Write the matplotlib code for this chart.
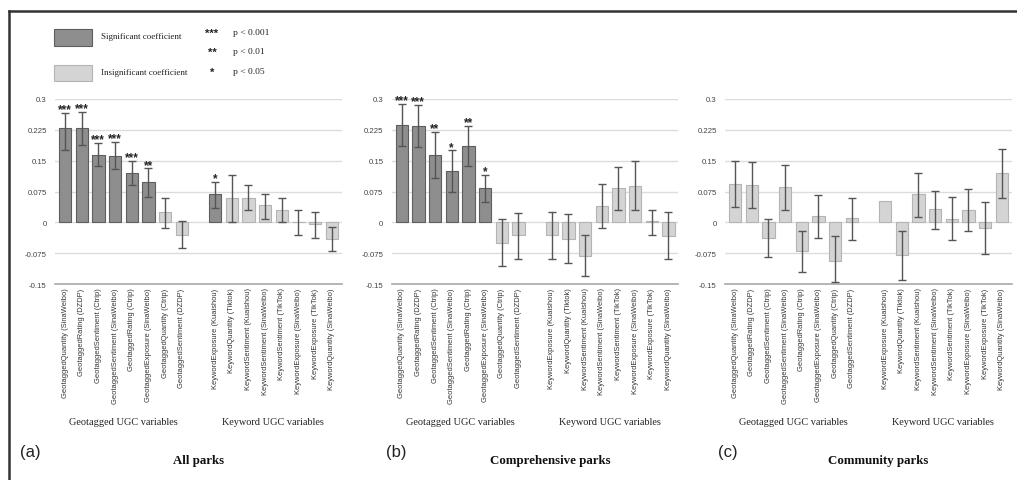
import numpy as np
import matplotlib
matplotlib.use("Agg")
import matplotlib.pyplot as plt
from matplotlib.patches import Rectangle
from matplotlib.lines import Line2D

# ---------------- data ----------------
geo_labels = ["GeotaggedQuantity (SinaWeibo)", "GeotaggedRating (DZDP)",
              "GeotaggedSentiment (Ctrip)", "GeotaggedSentiment (SinaWeibo)",
              "GeotaggedRating (Ctrip)", "GeotaggedExposure (SinaWeibo)",
              "GeotaggedQuantity (Ctrip)", "GeotaggedSentiment (DZDP)"]
kw_labels = ["KeywordExposure (Kuaishou)", "KeywordQuantity (Tiktok)",
             "KeywordSentiment (Kuaishou)", "KeywordSentiment (SinaWeibo)",
             "KeywordSentiment (TikTok)", "KeywordExposure (SinaWeibo)",
             "KeywordExposure (TikTok)", "KeywordQuantity (SinaWeibo)"]
labels = geo_labels + kw_labels
group_names = ["Geotagged UGC variables", "Keyword UGC variables"]
yticks = [-0.15, -0.075, 0, 0.075, 0.15, 0.225, 0.3]
ytick_labels = ["-0.15", "-0.075", "0", "0.075", "0.15", "0.225", "0.3"]

panel_letters = ["(a)", "(b)", "(c)"]
panel_titles = ["All parks", "Comprehensive parks", "Community parks"]

all_vals = [0.230, 0.230, 0.163, 0.162, 0.119, 0.097, 0.024, -0.030,
            0.069, 0.060, 0.060, 0.041, 0.030, 0.000, -0.003, -0.040]
all_hi = [0.267, 0.269, 0.193, 0.195, 0.150, 0.131, 0.060, 0.003,
          0.099, 0.114, 0.091, 0.070, 0.060, 0.030, 0.025, -0.011]
all_lo = [0.177, 0.187, 0.138, 0.130, 0.091, 0.062, -0.014, -0.063,
          0.036, 0.002, 0.029, 0.009, 0.000, -0.032, -0.037, -0.069]
all_sig = ["***", "***", "***", "***", "***", "**", "", "",
           "*", "", "", "", "", "", "", ""]

comp_vals = [0.237, 0.234, 0.165, 0.125, 0.186, 0.084, -0.050, -0.032,
             -0.030, -0.040, -0.081, 0.040, 0.083, 0.089, 0.004, -0.034]
comp_hi = [0.288, 0.285, 0.220, 0.175, 0.235, 0.116, 0.007, 0.023,
           0.025, 0.020, -0.031, 0.093, 0.134, 0.148, 0.030, 0.024]
comp_lo = [0.185, 0.184, 0.109, 0.075, 0.136, 0.050, -0.106, -0.089,
           -0.088, -0.099, -0.130, -0.014, 0.030, 0.030, -0.030, -0.089]
comp_sig = ["***", "***", "**", "*", "**", "*", "", "",
            "", "", "", "", "", "", "", ""]

comm_vals = [0.094, 0.090, -0.039, 0.086, -0.070, 0.016, -0.093, 0.010,
             0.052, -0.080, 0.068, 0.032, 0.009, 0.029, -0.014, 0.119]
comm_hi = [0.148, 0.146, 0.007, 0.140, -0.020, 0.066, -0.034, 0.058,
           np.nan, -0.020, 0.120, 0.076, 0.061, 0.080, 0.050, 0.178]
comm_lo = [0.038, 0.035, -0.085, 0.030, -0.120, -0.038, -0.145, -0.043,
           np.nan, -0.140, 0.014, -0.016, -0.044, -0.022, -0.077, 0.058]
comm_sig = [""] * 16

panels = [(all_vals, all_hi, all_lo, all_sig),
          (comp_vals, comp_hi, comp_lo, comp_sig),
          (comm_vals, comm_hi, comm_lo, comm_sig)]

# ---------------- style ----------------
W, H = 1017, 481
SIG_FACE, SIG_EDGE = "#8e8e8e", "#5e5e5e"
INS_FACE, INS_EDGE = "#d4d4d4", "#b4b4b4"
ERR_COL = "#555555"
GRID_COL = "#dcdcdc"
SANS = ["Liberation Sans", "DejaVu Sans"]
SERIF = ["Liberation Serif", "DejaVu Serif"]

fig = plt.figure(figsize=(W / 100, H / 100), dpi=100)
fig.patch.set_facecolor("white")

def fx(px):
    return px / W

def fy(py):
    return 1 - py / H

x = np.r_[0:8, 9:17]
ax_lefts = [55, 391.7, 725]
ax_w = 286.7
ax_top, ax_bot = 100, 285
title_x = [199, 550, 878]
letter_x = [20, 386, 718]

for k, (vals, hi, lo, sig) in enumerate(panels):
    vals = np.array(vals, float)
    hi = np.array(hi, float)
    lo = np.array(lo, float)
    ax = fig.add_axes([fx(ax_lefts[k]), fy(ax_bot), fx(ax_w), (ax_bot - ax_top) / H])
    ax.set_xlim(-0.6, 16.6)
    ax.set_ylim(-0.15, 0.3)
    for yv in yticks[1:]:
        ax.axhline(yv, color=GRID_COL, lw=1.0, zorder=0)
    ax.axhline(-0.15, color="#a8a8a8", lw=1.2, zorder=0, clip_on=False)
    faces = [SIG_FACE if s else INS_FACE for s in sig]
    edges = [SIG_EDGE if s else INS_EDGE for s in sig]
    ax.bar(x, vals, width=0.74, color=faces, edgecolor=edges, linewidth=0.8, zorder=2)
    ok = np.isfinite(hi)
    ax.errorbar(x[ok], vals[ok], yerr=[vals[ok] - lo[ok], hi[ok] - vals[ok]],
                fmt="none", ecolor=ERR_COL, elinewidth=1.0, capsize=3.2,
                capthick=1.0, zorder=3)
    for xi, h, s in zip(x, hi, sig):
        if s:
            ax.annotate(s, (xi, h), xytext=(0, 0.5), textcoords="offset points",
                        ha="center", va="baseline", fontsize=8.5, fontweight="bold",
                        family=SANS, color="#222222", annotation_clip=False)
    for sp in ax.spines.values():
        sp.set_visible(False)
    ax.set_yticks(yticks)
    ax.set_yticklabels(ytick_labels, family=SANS, fontsize=5.6, color="#444444")
    ax.set_xticks(x)
    ax.set_xticklabels(labels, rotation=90, ha="center", va="top",
                       family=SANS, fontsize=5.4, color="#333333")
    ax.tick_params(axis="both", length=0)
    ax.tick_params(axis="y", pad=6)
    ax.tick_params(axis="x", pad=2.5)
    # group labels
    for gi, gx in enumerate([3.5, 12.5]):
        px = ax_lefts[k] + (gx + 0.6) / 17.2 * ax_w
        fig.text(fx(px), fy(423), group_names[gi], ha="center", va="center",
                 family=SERIF, fontsize=7.4, color="#222222")
    fig.text(fx(letter_x[k]), fy(452), panel_letters[k], ha="left", va="center",
             family=SANS, fontsize=12, color="#222222")
    fig.text(fx(title_x[k]), fy(461), panel_titles[k], ha="center", va="center",
             family=SERIF, fontsize=9.3, fontweight="bold", color="#111111")

# ---------------- legend ----------------
fig.patches.append(Rectangle((fx(54), fy(47)), fx(38), 17 / H, transform=fig.transFigure,
                             facecolor=SIG_FACE, edgecolor=SIG_EDGE, lw=0.8))
fig.patches.append(Rectangle((fx(54), fy(82)), fx(38), 16 / H, transform=fig.transFigure,
                             facecolor=INS_FACE, edgecolor=INS_EDGE, lw=0.8))
fig.text(fx(101), fy(37), "Significant coefficient", ha="left", va="center",
         family=SERIF, fontsize=6.5, color="#222222")
fig.text(fx(101), fy(73), "Insignificant coefficient", ha="left", va="center",
         family=SERIF, fontsize=6.5, color="#222222")
for s, txt, yy in [("***", "p < 0.001", 33), ("**", "p < 0.01", 52), ("*", "p < 0.05", 72)]:
    fig.text(fx(212), fy(yy + 4), s, ha="center", va="baseline", family=SANS,
             fontsize=8, fontweight="bold", color="#222222")
    fig.text(fx(233), fy(yy), txt, ha="left", va="center", family=SERIF,
             fontsize=6.8, color="#222222")

# ---------------- frame lines ----------------
fig.add_artist(Line2D([fx(9), 1], [fy(12), fy(12)], transform=fig.transFigure,
                      color="#333333", lw=1.8))
fig.add_artist(Line2D([fx(9), fx(9)], [fy(12), 0], transform=fig.transFigure,
                      color="#333333", lw=1.8))

fig.savefig("out.png", dpi=100, facecolor="white")
